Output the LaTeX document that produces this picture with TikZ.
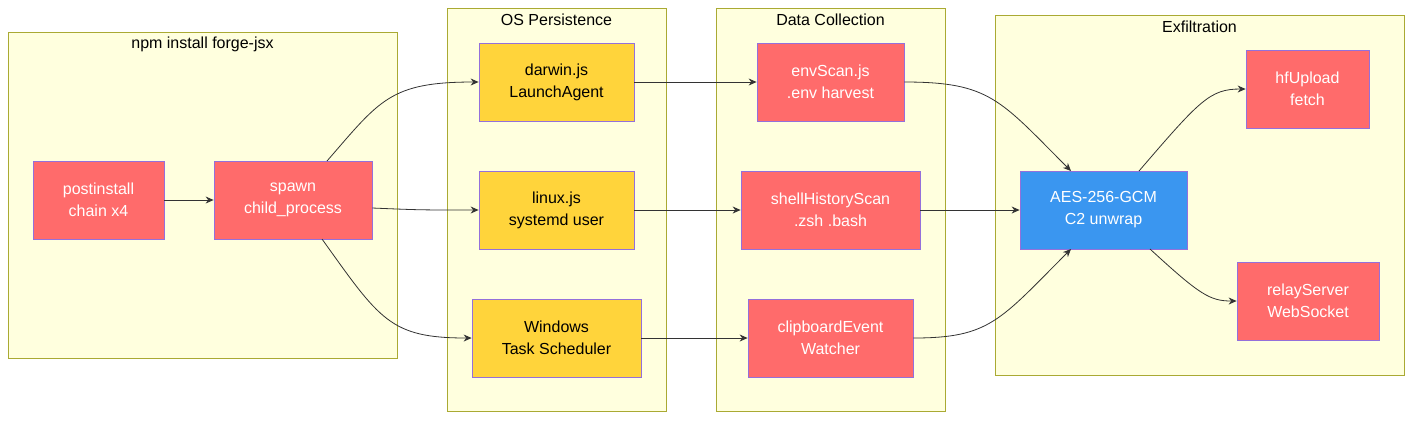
\documentclass[tikz,border=0pt]{standalone}
\usepackage{fontspec}
\setmainfont{Liberation Sans}
\usetikzlibrary{arrows.meta}
\definecolor{clfill}{HTML}{FFFFDE}
\definecolor{clline}{HTML}{AAAA33}
\definecolor{redbox}{HTML}{FF6B6B}
\definecolor{yelbox}{HTML}{FFD43B}
\definecolor{bluebox}{HTML}{3A96F0}
\definecolor{edgeline}{HTML}{9370DB}
\begin{document}
\begin{tikzpicture}[x=0.5pt,y=-0.5pt,
    font=\fontsize{8}{11}\selectfont,
    cluster/.style={draw=clline,fill=clfill,line width=0.4pt},
    stage/.style={draw=edgeline,line width=0.4pt,align=center,inner sep=0pt},
    hot/.style={stage,fill=redbox,text=white},
    os/.style={stage,fill=yelbox,text=black},
    key/.style={stage,fill=bluebox,text=white},
    flow/.style={draw=black!80,line width=0.4pt,-{Stealth[length=4pt,width=3.5pt]}}]
    \useasboundingbox (0,0) rectangle (1412,420);
    % clusters
    \draw[cluster] (8,32) rectangle (397,358);
    \draw[cluster] (447,8) rectangle (666,411);
    \draw[cluster] (716,8) rectangle (945,411);
    \draw[cluster] (995,15) rectangle (1404,375);
    \node (t1) at (202.5,44) {npm install forge-jsx};
    \node (t2) at (556.5,20) {OS Persistence};
    \node (t3) at (830.5,20) {Data Collection};
    \node (t4) at (1199.5,27) {Exfiltration};
    % nodes
    \node[hot,minimum width=65.5pt,minimum height=39pt] (post) at (98.5,200) {postinstall\\chain x4};
    \node[hot,minimum width=79pt,minimum height=39pt] (spawn) at (293,200) {spawn\\child\_process};
    \node[os,minimum width=77.5pt,minimum height=39pt] (darwin) at (556.5,82) {darwin.js\\LaunchAgent};
    \node[os,minimum width=77.5pt,minimum height=39pt] (linux) at (556.5,210) {linux.js\\systemd user};
    \node[os,minimum width=84.5pt,minimum height=39pt] (win) at (556.5,338) {Windows\\Task Scheduler};
    \node[hot,minimum width=73.5pt,minimum height=39pt] (env) at (830.5,82) {envScan.js\\.env harvest};
    \node[hot,minimum width=89.5pt,minimum height=39pt] (shell) at (830.5,210) {shellHistoryScan\\.zsh .bash};
    \node[hot,minimum width=82.5pt,minimum height=39pt] (clip) at (830.5,338) {clipboardEvent\\Watcher};
    \node[key,minimum width=83.5pt,minimum height=39pt] (aes) at (1103.5,210) {AES-256-GCM\\C2 unwrap};
    \node[hot,minimum width=61.5pt,minimum height=39pt] (hf) at (1307.5,89) {hfUpload\\fetch};
    \node[hot,minimum width=71pt,minimum height=39pt] (relay) at (1308,301) {relayServer\\WebSocket};
    % edges
    \draw[flow] (post) -- (spawn);
    \draw[flow] (327,161) .. controls (380,100) and (390,82) .. (darwin.west);
    \draw[flow] (spawn.east) ++(0,8) .. controls (420,210) .. (linux.west);
    \draw[flow] (322,239) .. controls (380,320) and (390,338) .. (win.west);
    \draw[flow] (darwin) -- (env);
    \draw[flow] (linux) -- (shell);
    \draw[flow] (win) -- (clip);
    \draw[flow] (env.east) .. controls (990,82) and (1000,100) .. (1071,171);
    \draw[flow] (shell) -- (aes);
    \draw[flow] (clip.east) .. controls (990,338) and (1000,320) .. (1071,249);
    \draw[flow] (1139,171) .. controls (1200,100) and (1210,89) .. (hf.west);
    \draw[flow] (1150,249) .. controls (1200,295) and (1210,301) .. (relay.west);
\end{tikzpicture}
\end{document}
